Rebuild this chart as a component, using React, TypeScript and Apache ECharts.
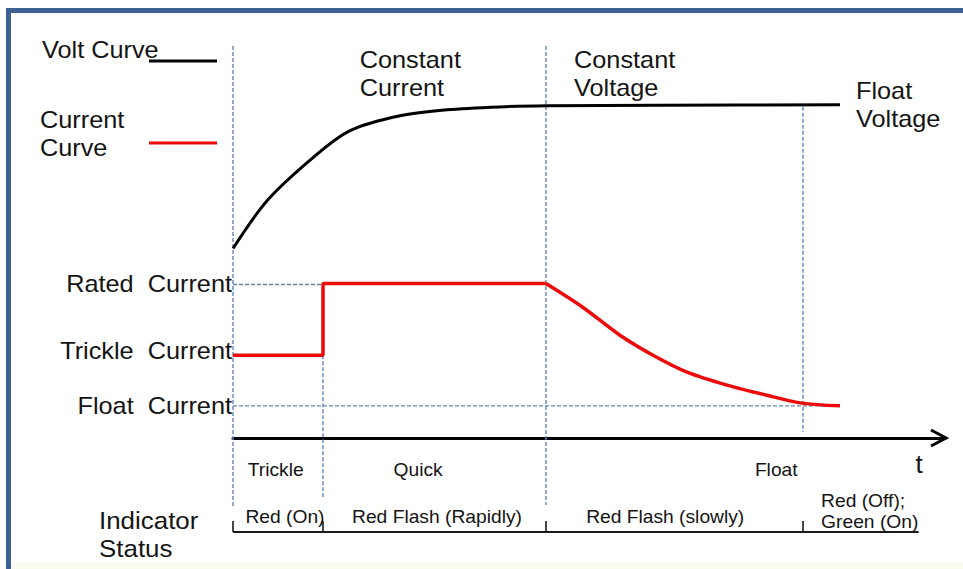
import React, { useEffect, useRef } from "react";
import * as echarts from "echarts";

// ---------------- data ----------------
// time axis (arbitrary units) and phase boundaries: Trickle | Constant Current | Constant Voltage | Float
const timeMax = 100;
const phaseBounds = [0, 12.64, 43.96, 80.06];
const curveEnd = 85.25;

// voltage curve (V, axis 0..15)
const voltTime = [0, 4.78, 11.24, 16.43, 23.46, 30.06, 37.5, 44.1, 60, 85.25];
const voltValues = [7.25, 9.08, 10.73, 11.76, 12.33, 12.56, 12.67, 12.71, 12.73, 12.75];

// current curve (A, axis 0..10): trickle step, constant current, then decay
const currentTime = [0, 12.64, 12.64, 43.96, 49.16, 54.35, 58.99, 63.76, 69.38, 75.0, 79.92, 85.25];
const currentValues = [2.11, 2.11, 3.94, 3.94, 3.33, 2.62, 2.11, 1.68, 1.35, 1.09, 0.89, 0.82];
const decayStartIndex = 3;

// named levels
const ratedCurrent = 3.94;
const trickleCurrent = 2.11;
const floatCurrent = 0.82;
const floatVoltage = 12.75;

// texts
const levelLabels = ["Rated  Current", "Trickle  Current", "Float  Current"];
const phaseLabels = ["Trickle", "Quick", "Float"];
const statusLabels = ["Red (On)", "Red Flash (Rapidly)", "Red Flash (slowly)"];
const finalStatusLabel = "Red (Off);\nGreen (On)";
const stageLabels = ["Constant\nCurrent", "Constant\nVoltage", "Float\nVoltage"];
const legendLabels = ["Volt Curve", "Current\nCurve"];

// ---------------- layout (annotation anchors) ----------------
const phaseLabelTimes = [6.0, 26.0, 76.3];
const statusLabelTimes = [7.3, 28.65, 60.7];
const finalStatusTime = 82.6;
const stageLabelTimes = [17.8, 47.9, 87.5];
const statusLineEndTime = 96.3;

const FONT = "'Liberation Sans', Arial, Helvetica, sans-serif";
const TXT = "#141414";
const DASH = "#5f86bb";
const RED = "#ee0a0a";

export default function App() {
  const ref = useRef<HTMLDivElement>(null);

  useEffect(() => {
    const chart = echarts.init(ref.current!, null, { renderer: "svg" });
    const currentPairs = currentTime.map((t, i) => [t, currentValues[i]]);
    chart.setOption({
      animation: false,
      backgroundColor: "#ffffff",
      grid: { left: 233, right: 18, top: 46, bottom: 131 },
      xAxis: {
        type: "value",
        min: 0,
        max: timeMax,
        axisLine: { show: true, onZero: false, lineStyle: { color: "#000", width: 3 } },
        axisTick: { show: false },
        axisLabel: { show: false },
        splitLine: { show: false },
      },
      yAxis: [
        { type: "value", min: 0, max: 10, show: false, splitLine: { show: false } },
        { type: "value", min: 0, max: 15, show: false, splitLine: { show: false } },
      ],
      series: [
        {
          type: "line",
          name: "Volt Curve",
          yAxisIndex: 1,
          data: voltTime.map((t, i) => [t, voltValues[i]]),
          smooth: 0.3,
          symbol: "none",
          showSymbol: false,
          lineStyle: { color: "#000", width: 3 },
          z: 5,
        },
        {
          type: "line",
          name: "Current Curve",
          yAxisIndex: 0,
          data: currentPairs.slice(0, decayStartIndex + 1),
          symbol: "none",
          showSymbol: false,
          lineStyle: { color: RED, width: 3.5 },
          z: 5,
        },
        {
          type: "line",
          name: "Current Curve",
          yAxisIndex: 0,
          data: currentPairs.slice(decayStartIndex),
          smooth: 0.3,
          symbol: "none",
          showSymbol: false,
          lineStyle: { color: RED, width: 3.5 },
          z: 5,
        },
      ],
    });

    const P = (t: number, v: number, s: number) =>
      chart.convertToPixel({ seriesIndex: s }, [t, v]) as number[];
    const xOf = (t: number) => P(t, 0, 1)[0];
    const cY = (i: number) => P(0, i, 1)[1];
    const vY = (v: number) => P(0, v, 0)[1];
    const baseY = cY(0);
    const topY = 46;

    const text = (
      str: string,
      x: number,
      y: number,
      size: number,
      align: string,
      scaleX = 1,
      lineHeight?: number
    ) => ({
      type: "text",
      x,
      y,
      scaleX,
      silent: true,
      z: 20,
      style: {
        text: str,
        fontSize: size,
        fontFamily: FONT,
        fill: TXT,
        align,
        verticalAlign: "middle",
        lineHeight: lineHeight ?? Math.round(size * 1.2),
      },
    });
    const line = (x1: number, y1: number, x2: number, y2: number, stroke: string, w: number, dash?: number[]) => ({
      type: "line",
      silent: true,
      z: dash ? 2 : 15,
      shape: { x1, y1, x2, y2 },
      style: { stroke, lineWidth: w, lineDash: dash },
    });

    const g: any[] = [];
    // frame
    g.push({ type: "rect", silent: true, z: 30, shape: { x: 6, y: 8, width: 957, height: 5 }, style: { fill: "#3e6194" } });
    g.push({ type: "rect", silent: true, z: 30, shape: { x: 6, y: 8, width: 5, height: 561 }, style: { fill: "#3e6194" } });
    g.push({ type: "rect", silent: true, z: 1, shape: { x: 11, y: 563, width: 952, height: 6 }, style: { fill: "#fbfcef" } });

    // legend
    g.push(text(legendLabels[0], 42, 50, 23, "left", 1.1));
    g.push(line(149, 61, 217, 61, "#000", 3));
    g.push(text(legendLabels[1], 40, 134, 23, "left", 1.1, 28));
    g.push(line(149, 143, 217, 143, RED, 3));

    // dashed guides
    const dash = [4, 2];
    g.push(line(xOf(phaseBounds[0]), topY, xOf(phaseBounds[0]), baseY + 70, DASH, 1.4, dash));
    g.push(line(xOf(phaseBounds[1]), cY(trickleCurrent), xOf(phaseBounds[1]), baseY + 59, DASH, 1.4, dash));
    g.push(line(xOf(phaseBounds[2]), topY, xOf(phaseBounds[2]), baseY + 67, DASH, 1.4, dash));
    g.push(line(xOf(phaseBounds[3]), vY(floatVoltage) + 2, xOf(phaseBounds[3]), baseY - 6, DASH, 1.4, dash));
    g.push(line(xOf(0), cY(ratedCurrent) + 1, xOf(phaseBounds[1]), cY(ratedCurrent) + 1, DASH, 1.4, dash));
    g.push(line(xOf(0), cY(floatCurrent), xOf(curveEnd), cY(floatCurrent), DASH, 1.4, dash));

    // arrow head of time axis
    const ax = xOf(timeMax);
    g.push({
      type: "polyline",
      silent: true,
      z: 15,
      shape: { points: [[ax - 14, baseY - 8], [ax + 1, baseY], [ax - 14, baseY + 8]] },
      style: { stroke: "#000", lineWidth: 3, fill: "none" },
    });
    g.push(text("t", ax - 26, baseY + 26, 26, "center"));

    // level labels
    const levels = [ratedCurrent, trickleCurrent, floatCurrent];
    const lvlDy = [0, -4, 0];
    levels.forEach((lv, i) => g.push(text(levelLabels[i], xOf(0) - 1, cY(lv) + lvlDy[i], 23, "right", 1.1)));

    // stage labels
    g.push(text(stageLabels[0], xOf(stageLabelTimes[0]), 74, 23, "left", 1.1, 28));
    g.push(text(stageLabels[1], xOf(stageLabelTimes[1]), 74, 23, "left", 1.1, 28));
    g.push(text(stageLabels[2], xOf(stageLabelTimes[2]), 105, 23, "left", 1.1, 28));

    // phase labels
    phaseLabels.forEach((s, i) => g.push(text(s, xOf(phaseLabelTimes[i]), baseY + 32, 18.5, "center", 1.04)));

    // indicator status
    g.push(text("Indicator\nStatus", 99, baseY + 96, 24, "left", 1.08, 28));
    statusLabels.forEach((s, i) => g.push(text(s, xOf(statusLabelTimes[i]), baseY + 79, 18.5, "center", 1.04)));
    g.push(text(finalStatusLabel, xOf(finalStatusTime), baseY + 73, 18.5, "left", 1.04, 21));
    const sy = baseY + 94;
    g.push(line(xOf(0), sy, xOf(statusLineEndTime), sy, "#1a1a1a", 2));
    phaseBounds.forEach((t) => g.push(line(xOf(t), sy - 11, xOf(t), sy, "#1a1a1a", 1.6)));

    chart.setOption({ graphic: g });

    return () => chart.dispose();
  }, []);

  return (
    <div
      ref={ref}
      style={{ position: "absolute", left: 0, top: 0, width: 963, height: 569, background: "#fff" }}
    />
  );
}
